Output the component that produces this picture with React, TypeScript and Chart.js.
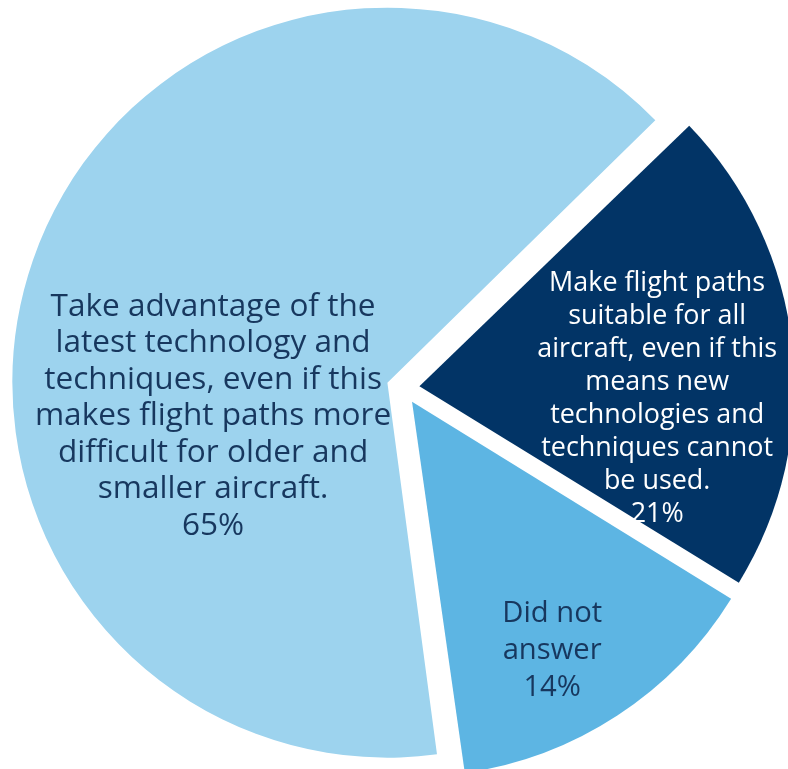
import React, { useEffect, useRef } from 'react';
import { Chart, registerables } from 'chart.js';

Chart.register(...registerables);

// ---- data ----
const categories = [
  'Make flight paths suitable for all aircraft, even if this means new technologies and techniques cannot be used.',
  'Did not answer',
  'Take advantage of the latest technology and techniques, even if this makes flight paths more difficult for older and smaller aircraft.',
];
const shares = [21, 14, 65];
const labelLines = [
  ['Make flight paths', 'suitable for all', 'aircraft, even if this', 'means new', 'technologies and', 'techniques cannot', 'be used.'],
  ['Did not', 'answer'],
  ['Take advantage of the', 'latest technology and', 'techniques, even if this', 'makes flight paths more', 'difficult for older and', 'smaller aircraft.'],
];

// ---- style ----
const sliceColors = ['#023466', '#5DB5E3', '#9DD3EE'];
const textColors = ['#FFFFFF', '#17375E', '#17375E'];
const START_ANGLE = 46;
const RADIUS = 375;
const EXPLODE = 66;
const FONT = '"Open Sans", "Noto Sans", sans-serif';
// label placement: polar angle (deg, clockwise from 3 o'clock) and distance as a fraction of radius
const labelAngle = [1.7, 60.1, 172.4];
const labelDist = [0.678, 0.798, 0.511];
const labelLineHeight = [33, 37, 36.5];
const labelFitLine = [2, 0, 0];
const labelFitWidth = [240, 100, 325];

// keep every exploded slice at the same radius
const radiusFix = {
  id: 'radiusFix',
  afterDatasetUpdate(chart: any, args: any) {
    args.meta.data.forEach((arc: any) => {
      const off = EXPLODE / 4;
      const fix = 1 - Math.sin(Math.min(Math.PI, arc.circumference));
      arc.outerRadius = RADIUS - off * fix;
    });
  },
};

const sliceLabels = {
  id: 'sliceLabels',
  afterDatasetsDraw(chart: any) {
    const ctx = chart.ctx;
    const meta = chart.getDatasetMeta(0);
    meta.data.forEach((arc: any, i: number) => {
      const lines = [...labelLines[i], shares[i] + '%'];
      ctx.save();
      ctx.font = `100px ${FONT}`;
      const w = ctx.measureText(lines[labelFitLine[i]]).width;
      const size = (100 * labelFitWidth[i]) / w;
      ctx.font = `${size}px ${FONT}`;
      ctx.fillStyle = textColors[i];
      ctx.textAlign = 'center';
      ctx.textBaseline = 'middle';
      const a = (labelAngle[i] * Math.PI) / 180;
      const cx = arc.x + Math.cos(a) * labelDist[i] * RADIUS;
      const cy = arc.y + Math.sin(a) * labelDist[i] * RADIUS + 3;
      const lh = labelLineHeight[i];
      lines.forEach((l, k) => ctx.fillText(l, cx, cy + (k - (lines.length - 1) / 2) * lh));
      ctx.restore();
    });
  },
};

export default function App() {
  const ref = useRef<HTMLCanvasElement>(null);
  useEffect(() => {
    const chart = new Chart(ref.current as HTMLCanvasElement, {
      type: 'pie',
      data: {
        labels: categories,
        datasets: [
          {
            data: shares,
            backgroundColor: sliceColors,
            borderWidth: 0,
            offset: EXPLODE,
          },
        ],
      },
      options: {
        responsive: false,
        animation: false,
        rotation: START_ANGLE,
        radius: RADIUS,
        events: [],
        layout: { padding: 0 },
        plugins: { legend: { display: false }, tooltip: { enabled: false } },
      } as any,
      plugins: [radiusFix, sliceLabels],
    });
    return () => chart.destroy();
  }, []);
  return (
    <div
      style={{
        position: 'fixed',
        left: 0,
        top: 0,
        width: 788,
        height: 769,
        overflow: 'hidden',
        background: '#fff',
      }}
    >
      <canvas ref={ref} width={800} height={800} style={{ position: 'absolute', left: 3, top: -12 }} />
    </div>
  );
}
